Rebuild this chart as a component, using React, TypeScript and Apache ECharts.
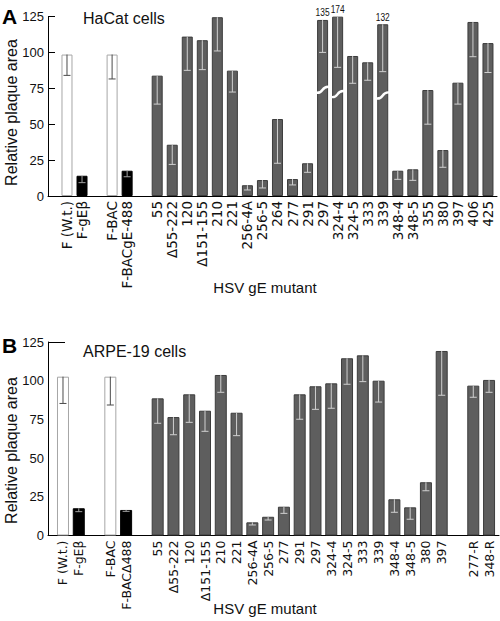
import React, { useEffect, useRef } from 'react';
import * as echarts from 'echarts';

// ---------- Panel A: HaCat cells ----------
// '' marks an empty slot (gap between groups)
const panelACategories = [
  'F (W.t.)', 'F-gEβ', '', 'F-BAC', 'F-BACgE-488', '',
  '55', 'Δ55-222', '120', 'Δ151-155', '210', '221', '256-4A', '256-5', '264', '277', '291',
  '297', '324-4', '324-5', '333', '339', '348-4', '348-5', '355', '380', '397', '406', '425',
];
const panelAValues = [
  98.5, 14.1, null, 98.5, 17.6, null,
  83.8, 35.7, 111.0, 108.5, 124.5, 87.3, 7.5, 11.1, 53.6, 11.8, 22.8,
  122.6, 124.9, 97.5, 93.1, 119.6, 17.6, 18.6, 73.8, 32.0, 78.9, 121.2, 106.5,
];
const panelALowerError = [
  84.0, 9.3, null, 81.5, 13.4, null,
  64.0, 22.0, 87.5, 88.0, 101.0, 72.4, 4.2, 5.6, 22.8, 7.7, 16.5,
  100.0, 89.6, 78.5, 80.6, 86.6, 11.6, 10.9, 50.0, 20.0, 64.0, 97.0, 86.0,
];
// 0 = wild type (white), 1 = gE-null (black), 2 = mutant (grey)
const panelAKinds = [
  0, 1, -1, 0, 1, -1,
  2, 2, 2, 2, 2, 2, 2, 2, 2, 2, 2,
  2, 2, 2, 2, 2, 2, 2, 2, 2, 2, 2, 2,
];
// bars drawn truncated (axis break) with their true values written above
const panelABrokenIndex = [17, 18, 21];
const panelABrokenTrueValue = [135, 174, 132];
const panelABreakAt = [74, 71, 70];

// ---------- Panel B: ARPE-19 cells ----------
const panelBCategories = [
  'F (W.t.)', 'F-gEβ', '', 'F-BAC', 'F-BACΔ488', '',
  '55', 'Δ55-222', '120', 'Δ151-155', '210', '221', '256-4A', '256-5', '277', '291',
  '297', '324-4', '324-5', '333', '339', '348-4', '348-5', '380', '397', '',
  '277-R', '348-R',
];
const panelBValues = [
  102.6, 17.6, null, 102.6, 16.5, null,
  88.6, 76.5, 91.2, 80.6, 103.7, 79.3, 8.5, 12.1, 18.6, 91.2,
  96.4, 98.3, 114.5, 116.4, 100.0, 23.4, 18.2, 34.4, 119.2, null,
  96.8, 100.5,
];
const panelBLowerError = [
  85.3, 15.4, null, 84.3, 15.6, null,
  72.5, 65.1, 73.1, 67.3, 92.5, 64.5, 6.8, 10.0, 14.3, 75.1,
  81.5, 82.2, 97.7, 99.4, 86.2, 15.0, 10.5, 28.9, 90.6, null,
  89.3, 92.5,
];
const panelBKinds = [
  0, 1, -1, 0, 1, -1,
  2, 2, 2, 2, 2, 2, 2, 2, 2, 2,
  2, 2, 2, 2, 2, 2, 2, 2, 2, -1,
  2, 2,
];

const yTicks = [0, 25, 50, 75, 100, 125];

const FONT = "'Liberation Sans', Arial, Helvetica, sans-serif";
const LABEL_FONT = "'DejaVu Sans', 'Liberation Sans', sans-serif";
const FILL = ['#ffffff', '#000000', '#5e5e5e'];
const BORDER = ['#a6a6a6', '#000000', '#3c3c3c'];
const ERR = ['#4a4a4a', '#a0a0a0', '#d0d0d0'];

function buildSeries(
  axisIndex: number,
  values: (number | null)[],
  lower: (number | null)[],
  kinds: number[],
  barWidth: number,
  brokenIndex: number[],
  brokenTrue: number[],
  breakAt: number[],
) {
  const bars: any[] = [];
  const errs: any[] = [];
  values.forEach((v, i) => {
    if (v == null) return;
    const k = kinds[i];
    bars.push({
      value: [i, v],
      itemStyle: { color: FILL[k], borderColor: BORDER[k], borderWidth: 1 },
    });
    errs.push([i, v, lower[i], k]);
  });
  const breaks = brokenIndex.map((idx, j) => [idx, breakAt[j], values[idx] as number, brokenTrue[j]]);
  const half = barWidth / 2 + 1;
  return [
    {
      type: 'bar',
      xAxisIndex: axisIndex,
      yAxisIndex: axisIndex,
      barWidth,
      data: bars,
      z: 2,
    },
    {
      type: 'custom',
      xAxisIndex: axisIndex,
      yAxisIndex: axisIndex,
      data: errs,
      encode: { x: 0, y: 1 },
      z: 3,
      renderItem: (_p: any, api: any) => {
        const x = api.value(0);
        const top = api.coord([x, api.value(1)]);
        const bot = api.coord([x, api.value(2)]);
        const c = ERR[api.value(3)];
        return {
          type: 'group',
          children: [
            { type: 'line', shape: { x1: top[0], y1: top[1], x2: bot[0], y2: bot[1] }, style: { stroke: c, lineWidth: 1 } },
            { type: 'line', shape: { x1: bot[0] - 3.5, y1: bot[1], x2: bot[0] + 3.5, y2: bot[1] }, style: { stroke: c, lineWidth: 1 } },
          ],
        };
      },
    },
    {
      type: 'custom',
      xAxisIndex: axisIndex,
      yAxisIndex: axisIndex,
      data: breaks,
      encode: { x: 0, y: 1 },
      z: 4,
      renderItem: (_p: any, api: any) => {
        const p = api.coord([api.value(0), api.value(1)]);
        const t = api.coord([api.value(0), api.value(2)]);
        return {
          type: 'group',
          children: [
            {
              type: 'bezierCurve',
              shape: {
                x1: p[0] - half, y1: p[1] + 3,
                cpx1: p[0] + 2, cpy1: p[1] + 4,
                cpx2: p[0] - 2, cpy2: p[1] - 4,
                x2: p[0] + half, y2: p[1] - 3,
              },
              style: { stroke: '#ffffff', lineWidth: 2.4, fill: 'none' },
            },
            {
              type: 'text',
              x: t[0],
              y: t[1] - 2,
              scaleX: 0.8,
              style: {
                text: String(api.value(3)),
                fontSize: 10.5,
                fontFamily: FONT,
                fill: '#111',
                align: 'center',
                verticalAlign: 'bottom',
              },
            },
          ],
        };
      },
    },
  ];
}

function xAxisFor(gridIndex: number, cats: string[], min: number, max: number, size: number) {
  const vals: number[] = [];
  cats.forEach((c, i) => { if (c) vals.push(i); });
  return {
    type: 'value',
    gridIndex,
    min,
    max,
    splitLine: { show: false },
    axisTick: { show: false },
    axisLine: { show: true, onZero: false, lineStyle: { color: '#000', width: 1 } },
    axisLabel: {
      customValues: vals,
      formatter: (v: number) => cats[Math.round(v)] || '',
      rotate: 90,
      margin: 5,
      fontSize: size,
      fontFamily: LABEL_FONT,
      color: '#111',
    },
  };
}

function yAxisFor(gridIndex: number, tick: any) {
  return {
    type: 'value',
    gridIndex,
    min: 0,
    max: 125,
    interval: 25,
    splitLine: { show: false },
    axisLine: { show: true, onZero: false, lineStyle: { color: '#000', width: 1 } },
    axisTick: tick,
    axisLabel: { customValues: yTicks, margin: 4, fontSize: 13, fontFamily: FONT, color: '#111' },
  };
}

export default function App() {
  const ref = useRef<HTMLDivElement>(null);
  useEffect(() => {
    if (!ref.current) return;
    document.body.style.margin = '0';
    const chart = echarts.init(ref.current, undefined, { renderer: 'svg' });
    const txt = (x: number, y: number, text: string, size: number, extra: any = {}) => ({
      type: 'text',
      x,
      y,
      ...extra,
      style: {
        text,
        fontSize: size,
        fontFamily: FONT,
        fill: '#111',
        verticalAlign: 'middle',
        align: 'left',
        ...(extra.style || {}),
      },
    });
    chart.setOption({
      animation: false,
      backgroundColor: '#ffffff',
      grid: [
        { left: 48, top: 16.5, width: 449, height: 179.5 },
        { left: 48, top: 342, width: 451, height: 193.5 },
      ],
      xAxis: [
        xAxisFor(0, panelACategories, -1.263, 28.6, 13.5),
        xAxisFor(1, panelBCategories, -0.95, 27.63, 12.5),
      ],
      yAxis: [
        yAxisFor(0, { show: true, inside: true, length: 7, lineStyle: { color: '#000' } }),
        yAxisFor(1, { show: true, inside: true, length: 17, customValues: [125], lineStyle: { color: '#000' } }),
      ],
      series: [
        ...buildSeries(0, panelAValues, panelALowerError, panelAKinds, 11, panelABrokenIndex, panelABrokenTrueValue, panelABreakAt),
        ...buildSeries(1, panelBValues, panelBLowerError, panelBKinds, 12, [], [], []),
      ],
      graphic: [
        txt(2, 16, 'A', 21, { style: { fontWeight: 'bold', fill: '#000' } }),
        txt(2, 345, 'B', 21, { style: { fontWeight: 'bold', fill: '#000' } }),
        txt(83, 18, 'HaCat cells', 16),
        txt(83, 351, 'ARPE-19 cells', 16),
        txt(11, 112.5, 'Relative plaque area', 16, { rotation: Math.PI / 2, style: { align: 'center' } }),
        txt(11, 450.5, 'Relative plaque area', 16, { rotation: Math.PI / 2, style: { align: 'center' } }),
        txt(265, 287, 'HSV gE mutant', 15, { style: { align: 'center' } }),
        txt(265, 608, 'HSV gE mutant', 15, { style: { align: 'center' } }),
      ],
    });
    return () => chart.dispose();
  }, []);
  return <div ref={ref} style={{ position: 'absolute', left: 0, top: 0, width: 500, height: 621 }} />;
}
